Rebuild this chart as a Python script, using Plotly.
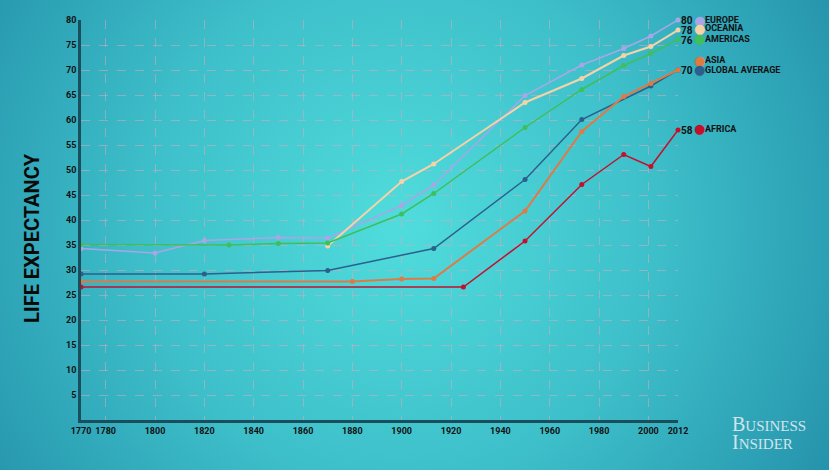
import base64
import plotly.graph_objects as go

# ---------------- data ----------------
europe_years = [1770, 1800, 1820, 1850, 1870, 1900, 1913, 1950, 1973, 1990, 2001, 2012]
europe_vals = [34.3, 33.4, 35.9, 36.5, 36.4, 42.9, 47.0, 64.9, 71.0, 74.3, 76.8, 80]

oceania_years = [1870, 1900, 1913, 1950, 1973, 1990, 2001, 2012]
oceania_vals = [34.8, 47.7, 51.2, 63.5, 68.3, 72.9, 74.7, 78]

americas_years = [1770, 1830, 1850, 1870, 1900, 1913, 1950, 1973, 1990, 2001, 2012]
americas_vals = [35.1, 35.0, 35.3, 35.4, 41.2, 45.3, 58.5, 66.1, 70.9, 73.3, 76.1]

asia_years = [1770, 1880, 1900, 1913, 1950, 1973, 1990, 2001, 2012]
asia_vals = [27.7, 27.7, 28.2, 28.3, 41.8, 57.7, 64.7, 67.3, 70]

global_years = [1770, 1820, 1870, 1913, 1950, 1973, 2001, 2012]
global_vals = [29.2, 29.2, 29.9, 34.3, 48.1, 60.1, 66.8, 70]

africa_years = [1770, 1925, 1950, 1973, 1990, 2001, 2012]
africa_vals = [26.6, 26.6, 35.8, 47.1, 53.1, 50.7, 58]

x_ticks = [1770, 1780, 1800, 1820, 1840, 1860, 1880, 1900, 1920, 1940, 1960, 1980, 2000, 2012]
x_grid = [1780, 1800, 1820, 1840, 1860, 1880, 1900, 1920, 1940, 1960, 1980, 2000]
y_ticks = [5, 10, 15, 20, 25, 30, 35, 40, 45, 50, 55, 60, 65, 70, 75, 80]
y_grid = [5, 10, 15, 20, 25, 30, 35, 40, 45, 50, 55, 60, 65, 70, 75]

end_labels = ["80", "78", "76", "70", "58"]
end_label_vals = [80, 78, 76, 70, 58]
legend_names = ["EUROPE", "OCEANIA", "AMERICAS", "ASIA", "GLOBAL AVERAGE", "AFRICA"]
legend_y = [80, 78.4, 76.3, 72.0, 70.1, 58.3]

# ---------------- style ----------------
W, H = 829, 470
L, R, T, B = 81, 151, 20, 50
PW, PH = W - L - R, H - T - B
FONT = "Roboto, 'Liberation Sans Narrow', sans-serif"

series = [
    ("EUROPE", europe_years, europe_vals, "#a9a6e6", 1.5),
    ("OCEANIA", oceania_years, oceania_vals, "#f6d3a6", 2),
    ("AMERICAS", americas_years, americas_vals, "#3fbf5c", 1.5),
    ("GLOBAL AVERAGE", global_years, global_vals, "#2c5f8c", 1.5),
    ("ASIA", asia_years, asia_vals, "#e07a45", 2),
    ("AFRICA", africa_years, africa_vals, "#c4102c", 1.5),
]
colors = {n: c for n, _, _, c, _ in series}

svg = f"""<svg xmlns='http://www.w3.org/2000/svg' width='{W}' height='{H}'>
<defs><radialGradient id='g' gradientUnits='userSpaceOnUse' cx='400' cy='225' r='560'>
<stop offset='0' stop-color='#50dcdc'/>
<stop offset='0.45' stop-color='#3ec0ca'/>
<stop offset='0.8' stop-color='#2a9cb2'/>
<stop offset='1' stop-color='#1f84a0'/>
</radialGradient></defs>
<rect width='{W}' height='{H}' fill='url(#g)'/></svg>"""
bg_uri = "data:image/svg+xml;base64," + base64.b64encode(svg.encode()).decode()

fig = go.Figure()

for name, xs, ys, col, lw in series:
    fig.add_trace(go.Scatter(
        x=xs, y=ys, mode="lines+markers", name=name,
        line=dict(color=col, width=lw),
        marker=dict(color=col, size=5),
        showlegend=False, hoverinfo="x+y+name", cliponaxis=False,
    ))

# invisible trace on overlay axes so the grid axes are drawn
fig.add_trace(go.Scatter(x=[1770], y=[0], xaxis="x2", yaxis="y2",
                         mode="markers", marker=dict(opacity=0),
                         showlegend=False, hoverinfo="skip"))

grid_col = "rgba(215,170,190,0.55)"
tickfont = dict(family=FONT, size=9, color="#111", weight="bold")
fig.update_layout(
    width=W, height=H,
    margin=dict(l=L, r=R, t=T, b=B, autoexpand=False),
    paper_bgcolor="#2a9cb2",
    plot_bgcolor="rgba(0,0,0,0)",
    font=dict(family=FONT, color="#111"),
    xaxis=dict(range=[1770, 2012], tickvals=x_ticks, ticktext=[str(v) for v in x_ticks],
               showgrid=False, zeroline=False, showline=True, linecolor="#1b4e5c", linewidth=2.5,
               ticks="", tickangle=0, tickfont=tickfont, automargin=False, fixedrange=True),
    yaxis=dict(range=[0, 80], tickvals=y_ticks, showgrid=False, zeroline=False,
               showline=True, linecolor="#1b4e5c", linewidth=2.5, ticks="",
               tickfont=tickfont, automargin=False, fixedrange=True),
    xaxis2=dict(overlaying="x", matches="x", tickvals=x_grid, showticklabels=False,
                showgrid=True, gridcolor=grid_col, griddash="dash", gridwidth=1, zeroline=False,
                showline=False, automargin=False),
    yaxis2=dict(overlaying="y", matches="y", tickvals=y_grid, showticklabels=False,
                showgrid=True, gridcolor=grid_col, griddash="dash", gridwidth=1, zeroline=False,
                showline=False, automargin=False),
    images=[dict(source=bg_uri, xref="paper", yref="paper", x=-L / PW, y=1 + T / PH,
                 sizex=W / PW, sizey=H / PH, sizing="stretch", layer="below", xanchor="left", yanchor="top")],
)

ann = []
# y-axis title
ann.append(dict(x=0, xref="paper", xshift=-49, y=0.455, yref="paper", textangle=-90,
                text="<b>LIFE EXPECTANCY</b>", showarrow=False, xanchor="center", yanchor="middle",
                font=dict(family=FONT, size=20, color="#0a0a0a")))
for txt, v in zip(end_labels, end_label_vals):
    ann.append(dict(x=1, xref="paper", xshift=2, y=v, yref="y", text=f"<b>{txt}</b>",
                    showarrow=False, xanchor="left", yanchor="middle", borderpad=0,
                    font=dict(family=FONT, size=10, color="#111")))
for nm, v in zip(legend_names, legend_y):
    ann.append(dict(x=1, xref="paper", xshift=21, y=v, yref="y", text="●",
                    showarrow=False, xanchor="center", yanchor="middle", borderpad=0,
                    font=dict(family="DejaVu Sans, sans-serif", size=13, color=colors[nm])))
    ann.append(dict(x=1, xref="paper", xshift=26, y=v, yref="y", text=f"<b>{nm}</b>",
                    showarrow=False, xanchor="left", yanchor="middle", borderpad=0,
                    font=dict(family=FONT, size=9, color="#111")))
logo_font = dict(family="Liberation Serif, DejaVu Serif, serif", size=20, color="#d5e3ea")
ann.append(dict(x=(730 - L) / PW, xref="paper", y=-3.5 / PH, yref="paper",
                text="B<span style='font-size:15px'>USINESS</span>",
                showarrow=False, xanchor="left", yanchor="middle", font=logo_font))
ann.append(dict(x=(730 - L) / PW, xref="paper", y=-21.5 / PH, yref="paper",
                text="I<span style='font-size:15px'>NSIDER</span>",
                showarrow=False, xanchor="left", yanchor="middle", font=logo_font))
fig.update_layout(annotations=ann)

fig.write_html("out.html", config={"displayModeBar": False},
               post_script="document.body.style.margin='0';")
